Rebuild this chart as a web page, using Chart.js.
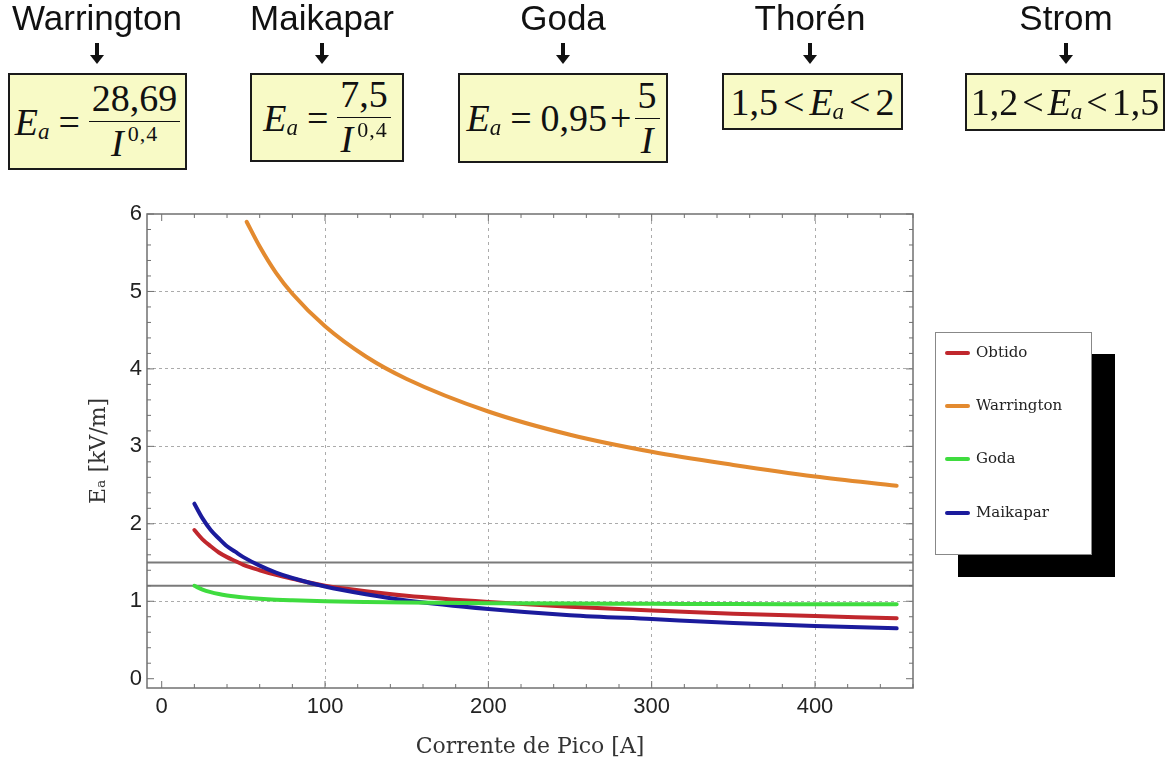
<!DOCTYPE html>
<html>
<head>
<meta charset="utf-8">
<script src="https://cdn.jsdelivr.net/npm/chart.js@4.4.0/dist/chart.umd.min.js"></script>
<style>
    body { margin: 0; width: 1172px; height: 769px; background: #fff; position: relative; overflow: hidden; }
    #grafico { position: absolute; left: 0; top: 0; }
    .titulo { position: absolute; top: -2px; font: 35px "Liberation Sans", Arial, sans-serif; color: #111; transform: translateX(-50%); white-space: nowrap; }
    .seta { position: absolute; top: 43px; width: 4px; height: 13px; background: #111; margin-left: -2px; }
    .seta::after { content: ""; position: absolute; left: -5px; top: 12px; border-left: 7px solid transparent; border-right: 7px solid transparent; border-top: 9px solid #111; }
    .caixa { position: absolute; top: 73px; background: #f8fac6; border: 2px solid #1a1a1a; box-sizing: border-box;
             display: flex; align-items: center; justify-content: center; font: 38px "Liberation Serif", "Times New Roman", serif; color: #111; white-space: nowrap; }
    .caixa i { font-style: italic; }
    .sub { font-size: 23px; position: relative; top: 10px; font-style: italic; }
    .op { margin: 0 9px; }
    .frac { display: inline-flex; flex-direction: column; align-items: center; vertical-align: middle; line-height: 1.05; }
    .frac .num { border-bottom: 1.5px solid #111; padding: 0 3px 2px 3px; }
    .frac .den { padding-top: 2px; }
    .sup { font-size: 22px; position: relative; top: -15px; margin-left: 4px; letter-spacing: 1px; }
    #legenda { position: absolute; left: 935px; top: 332px; width: 157px; height: 223px; background: #fff; border: 1px solid #888;
               box-sizing: border-box; box-shadow: 23px 22px 0 #000; }
    .item { position: absolute; left: 9px; font: 15px "DejaVu Serif", serif; color: #222; }
    .item span.linha { display: inline-block; width: 25px; height: 4px; vertical-align: middle; margin-right: 6px; border-radius: 2px; }
</style>
</head>
<body>
<canvas id="grafico" width="1172" height="769"></canvas>

<div class="titulo" style="left:97px">Warrington</div>
<div class="titulo" style="left:322px">Maikapar</div>
<div class="titulo" style="left:563px">Goda</div>
<div class="titulo" style="left:810px">Thorén</div>
<div class="titulo" style="left:1066px">Strom</div>

<div class="seta" style="left:97px"></div>
<div class="seta" style="left:322px"></div>
<div class="seta" style="left:563px"></div>
<div class="seta" style="left:810px"></div>
<div class="seta" style="left:1066px"></div>

<div class="caixa" style="left:8px;width:179px;height:97px">
    <i>E</i><span class="sub">a</span><span class="op">=</span>
    <span class="frac"><span class="num">28,69</span><span class="den"><i>I</i><span class="sup">0,4</span></span></span>
</div>
<div class="caixa" style="left:250px;width:154px;height:89px">
    <i>E</i><span class="sub">a</span><span class="op">=</span>
    <span class="frac"><span class="num">7,5</span><span class="den"><i>I</i><span class="sup">0,4</span></span></span>
</div>
<div class="caixa" style="left:458px;width:210px;height:90px">
    <i>E</i><span class="sub">a</span><span class="op">=</span>0,95<span class="op" style="margin:0 3px">+</span>
    <span class="frac"><span class="num">5</span><span class="den"><i>I</i></span></span>
</div>
<div class="caixa" style="left:722px;width:181px;height:57px">
    1,5<span class="op" style="margin:0 5px">&lt;</span><i>E</i><span class="sub">a</span><span class="op" style="margin:0 5px">&lt;</span>2
</div>
<div class="caixa" style="left:965px;width:200px;height:58px">
    1,2<span class="op" style="margin:0 4px">&lt;</span><i>E</i><span class="sub">a</span><span class="op" style="margin:0 4px">&lt;</span>1,5
</div>

<div id="legenda"></div>

<script>
// Dados
const xTicks = [0, 100, 200, 300, 400];
const yTicks = [0, 1, 2, 3, 4, 5, 6];

const correnteBase = [20, 25, 30, 35, 40, 45, 50, 60, 70, 80, 100, 125, 150, 200, 250, 300, 350, 400, 450];
const correnteWarrington = [52, 60, 70, 80, 100, 125, 150, 200, 250, 300, 350, 400, 450];

const obtido = [1.92, 1.80, 1.71, 1.63, 1.57, 1.52, 1.47, 1.40, 1.34, 1.29, 1.20, 1.13, 1.07, 0.99, 0.93, 0.88, 0.84, 0.81, 0.78];
const warrington = [5.90, 5.58, 5.24, 4.97, 4.55, 4.16, 3.87, 3.45, 3.15, 2.93, 2.76, 2.61, 2.49];
const goda = [1.20, 1.15, 1.117, 1.093, 1.075, 1.061, 1.05, 1.033, 1.021, 1.013, 1.00, 0.99, 0.983, 0.975, 0.97, 0.967, 0.964, 0.962, 0.961];
const maikapar = [2.26, 2.07, 1.92, 1.81, 1.71, 1.64, 1.57, 1.46, 1.37, 1.30, 1.19, 1.09, 1.01, 0.90, 0.82, 0.77, 0.72, 0.68, 0.65];

// limites de Thorén e Strom
const limites = [1.5, 1.2];

const xMin = -9, xMax = 460;
const yMin = -0.12, yMax = 6;

const series = [
    { nome: "Obtido", x: correnteBase, y: obtido, cor: "#c0272d" },
    { nome: "Warrington", x: correnteWarrington, y: warrington, cor: "#e38a2f" },
    { nome: "Goda", x: correnteBase, y: goda, cor: "#3fdc3f" },
    { nome: "Maikapar", x: correnteBase, y: maikapar, cor: "#1b1b9c" }
];

function pontos(xs, ys) {
    return xs.map((v, i) => ({ x: v, y: ys[i] }));
}

let datasets = series.map(s => ({
    label: s.nome,
    data: pontos(s.x, s.y),
    borderColor: s.cor,
    borderWidth: 4,
    pointRadius: 0,
    cubicInterpolationMode: "monotone",
    borderCapStyle: "round",
    fill: false
}));
// Goda por cima, azul sobre vermelho
datasets[0].order = 4;
datasets[1].order = 3;
datasets[2].order = 1;
datasets[3].order = 2;

limites.forEach(v => {
    datasets.push({
        label: "limite " + v,
        data: [{ x: xMin, y: v }, { x: xMax, y: v }],
        borderColor: "#7a7a7a",
        borderWidth: 2,
        pointRadius: 0,
        order: 5
    });
});

// moldura com marcas menores, estilo Mathematica
const moldura = {
    id: "moldura",
    afterDraw(chart) {
        const { ctx, chartArea: a, scales: { x, y } } = chart;
        ctx.save();
        ctx.strokeStyle = "#707070";
        ctx.lineWidth = 1.5;
        ctx.strokeRect(a.left, a.top, a.right - a.left, a.bottom - a.top);
        ctx.lineWidth = 1;
        for (let v = 0; v <= xMax; v += 20) {
            let px = x.getPixelForValue(v);
            let len = v % 100 === 0 ? 7 : 4;
            ctx.beginPath();
            ctx.moveTo(px, a.bottom); ctx.lineTo(px, a.bottom - len);
            ctx.moveTo(px, a.top); ctx.lineTo(px, a.top + len);
            ctx.stroke();
        }
        for (let k = 0; k <= 30; k++) {
            let v = k / 5;
            let py = y.getPixelForValue(v);
            let len = k % 5 === 0 ? 7 : 4;
            ctx.beginPath();
            ctx.moveTo(a.left, py); ctx.lineTo(a.left + len, py);
            ctx.moveTo(a.right, py); ctx.lineTo(a.right - len, py);
            ctx.stroke();
        }
        ctx.restore();
    }
};

let ctx = document.getElementById("grafico").getContext("2d");
new Chart(ctx, {
    type: "line",
    data: { datasets: datasets },
    options: {
        responsive: false,
        animation: false,
        layout: { padding: { left: 86, top: 214, right: 259, bottom: 9 } },
        plugins: { legend: { display: false }, tooltip: { enabled: false } },
        scales: {
            x: {
                type: "linear",
                min: xMin,
                max: xMax,
                afterBuildTicks: s => { s.ticks = xTicks.map(v => ({ value: v })); },
                afterFit: s => { s.height = 72; },
                grid: {
                    color: c => (c.tick && c.tick.value === 0) ? "rgba(0,0,0,0)" : "#ababab",
                    drawTicks: false,
                    lineWidth: 1
                },
                border: { display: false, dash: [3, 4] },
                ticks: { padding: 6, color: "#222", font: { family: "Liberation Sans", size: 22 } },
                title: {
                    display: true,
                    text: "Corrente de Pico [A]",
                    color: "#333",
                    padding: 0,
                    font: { family: "DejaVu Serif", size: 22 }
                }
            },
            y: {
                type: "linear",
                min: yMin,
                max: yMax,
                afterBuildTicks: s => { s.ticks = yTicks.map(v => ({ value: v })); },
                afterFit: s => { s.width = 61; },
                grid: {
                    color: c => (c.tick && (c.tick.value === 0 || c.tick.value === 6)) ? "rgba(0,0,0,0)" : "#ababab",
                    drawTicks: false,
                    lineWidth: 1
                },
                border: { display: false, dash: [3, 3] },
                ticks: { padding: 5, color: "#222", font: { family: "Liberation Sans", size: 22 } },
                title: {
                    display: true,
                    text: "Eₐ [kV/m]",
                    color: "#333",
                    padding: 0,
                    font: { family: "DejaVu Serif", size: 22 }
                }
            }
        }
    },
    plugins: [moldura]
});

// legenda com sombra, montada a partir das séries
const legenda = document.getElementById("legenda");
const posLegenda = [20, 73, 126, 180];
series.forEach((s, i) => {
    let d = document.createElement("div");
    d.className = "item";
    d.style.top = (posLegenda[i] - 10) + "px";
    d.innerHTML = '<span class="linha" style="background:' + s.cor + '"></span>' + s.nome;
    legenda.appendChild(d);
});
</script>
</body>
</html>
